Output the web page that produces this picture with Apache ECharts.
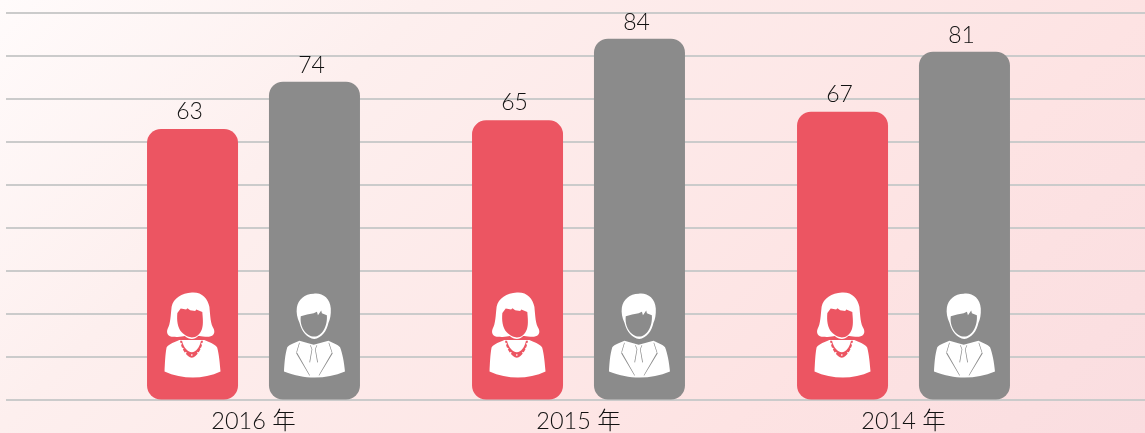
<!DOCTYPE html>
<html>
<head>
<meta charset="utf-8">
<style>
    html, body { margin: 0; padding: 0; }
    #main { width: 1145px; height: 433px; }
</style>
<script src="https://cdn.jsdelivr.net/npm/echarts@6/dist/echarts.min.js"></script>
</head>
<body>
<div id="main"></div>
<script type="text/javascript">
    var categories = ['2016 年', '2015 年', '2014 年'];
    var women = [63, 65, 67];
    var men = [74, 84, 81];
    var ticks = { min: 0, max: 90, interval: 10 };

    var chartFont = 'Lato, "Noto Sans CJK SC", sans-serif';

    // 女性图标，脸和项链是反向绕行的镂空
    var womanIcon = 'path://M105 18 C135 16 152 35 157 60 C160 90 160 110 170 125 C176 140 165 150 145 148 C135 148 128 146 124 146 C118 152 112 155 105 155 C98 155 90 152 84 146 C78 146 68 150 55 148 C35 150 28 138 33 125 C42 110 42 85 45 60 C50 35 75 20 105 18 Z '
        + 'M62 78 C60 100 62 120 75 135 C85 146 98 150 105 150 C118 150 130 140 135 125 C140 110 137 90 136 75 L118 68 L115 72 L100 70 L92 64 L88 68 L72 65 Z '
        + 'M68 158 L142 158 C155 165 172 168 180 180 C186 200 188 230 190 250 C165 262 135 268 108 268 C80 268 50 262 24 250 C25 230 26 200 30 180 C38 168 55 165 68 158 Z '
        + 'M70 160 C74 185 90 208 105 210 C120 208 134 185 138 160 L132 160 C128 180 118 192 105 194 C92 192 80 180 76 160 Z '
        + 'M73 166 L76 169 L73 172 L70 169 Z M78 180 L81 183 L78 186 L75 183 Z M87 192 L90 195 L87 198 L84 195 Z M105 199 L108 202 L105 205 L102 202 Z M123 192 L126 195 L123 198 L120 195 Z M132 180 L135 183 L132 186 L129 183 Z M135 166 L138 169 L135 172 L132 169 Z';

    // 男性图标
    var manIcon = 'path://M105 18 C130 14 155 30 157 62 C158 80 155 95 150 105 C145 130 128 152 107 153 C85 152 68 130 62 105 C55 90 52 75 54 60 C58 35 78 18 105 18 Z '
        + 'M66 85 C62 115 80 145 107 146 C130 145 148 115 145 82 L130 76 L128 68 L118 82 L115 72 L105 76 L85 80 Z '
        + 'M62 158 L105 170 L150 158 C162 165 178 168 185 178 C192 195 198 225 200 250 C170 262 140 268 108 268 C75 268 50 262 15 250 C16 230 18 200 25 178 C32 168 48 165 62 158 Z '
        + 'M61 164 L52 194 L54 194 L63 164 Z M150 164 L160 194 L162 194 L152 164 Z '
        + 'M52 196 L92 262 L94 262 L55 194 Z M160 194 L120 262 L122 262 L163 196 Z '
        + 'M94 172 L99 184 L92 222 L94 224 L101 184 L96 172 Z M114 172 L109 184 L116 224 L118 222 L111 184 L116 172 Z';

    var myChart = echarts.init(document.getElementById('main'));
    var option = {
        backgroundColor: {
            type: 'linear',
            global: true,
            x: 0,
            y: 0,
            x2: 789,
            y2: 789,
            colorStops: [{
                offset: 0, color: '#fffbfb'
            }, {
                offset: 0.27, color: '#fdefee'
            }, {
                offset: 0.73, color: '#fde3e3'
            }, {
                offset: 1, color: '#fadde0'
            }]
        },
        textStyle: { fontFamily: chartFont },
        animation: false,
        grid: [
            // 横线比柱子的区域宽，单独放一个 grid
            { left: 6, right: 0, top: 13, bottom: 33 },
            { left: 91, width: 975, top: 13, bottom: 33 }
        ],
        xAxis: [
            { type: 'value', gridIndex: 0, show: false },
            {
                type: 'category',
                gridIndex: 1,
                data: categories,
                axisLine: { show: false },
                axisTick: { show: false },
                axisLabel: {
                    margin: 10,
                    fontSize: 23.5,
                    fontWeight: 300,
                    fontFamily: chartFont,
                    color: '#111111'
                }
            }
        ],
        yAxis: [
            {
                type: 'value',
                gridIndex: 0,
                min: ticks.min,
                max: ticks.max,
                interval: ticks.interval,
                axisLine: { show: false },
                axisTick: { show: false },
                axisLabel: { show: false },
                splitLine: {
                    show: true,
                    lineStyle: { color: '#cbcbcb', width: 2 }
                }
            },
            {
                type: 'value',
                gridIndex: 1,
                min: ticks.min,
                max: ticks.max,
                interval: ticks.interval,
                show: false,
                splitLine: { show: false }
            }
        ],
        series: [
            {
                name: '女',
                type: 'bar',
                xAxisIndex: 1,
                yAxisIndex: 1,
                barWidth: 91,
                barGap: '34%',
                data: women,
                itemStyle: { color: '#ec5562', borderRadius: 14 },
                label: {
                    show: true,
                    position: 'top',
                    distance: 6,
                    offset: [-3, 0],
                    fontSize: 23,
                    fontWeight: 300,
                    fontFamily: chartFont,
                    color: '#111111'
                }
            },
            {
                name: '男',
                type: 'bar',
                xAxisIndex: 1,
                yAxisIndex: 1,
                barWidth: 91,
                barGap: '34%',
                data: men,
                itemStyle: { color: '#8b8b8b', borderRadius: 14 },
                label: {
                    show: true,
                    position: 'top',
                    distance: 5,
                    offset: [-3, 0],
                    fontSize: 23,
                    fontWeight: 300,
                    fontFamily: chartFont,
                    color: '#111111'
                }
            },
            {
                name: '女图标',
                type: 'pictorialBar',
                xAxisIndex: 1,
                yAxisIndex: 1,
                barWidth: 91,
                barGap: '34%',
                z: 5,
                data: women,
                symbol: womanIcon,
                symbolPosition: 'start',
                symbolSize: [56, 85],
                symbolOffset: [0, -22],
                itemStyle: { color: '#ffffff' }
            },
            {
                name: '男图标',
                type: 'pictorialBar',
                xAxisIndex: 1,
                yAxisIndex: 1,
                barWidth: 91,
                barGap: '34%',
                z: 5,
                data: men,
                symbol: manIcon,
                symbolPosition: 'start',
                symbolSize: [61, 84],
                symbolOffset: [0, -22],
                itemStyle: { color: '#ffffff' }
            }
        ]
    };

    myChart.setOption(option);
</script>
</body>
</html>
